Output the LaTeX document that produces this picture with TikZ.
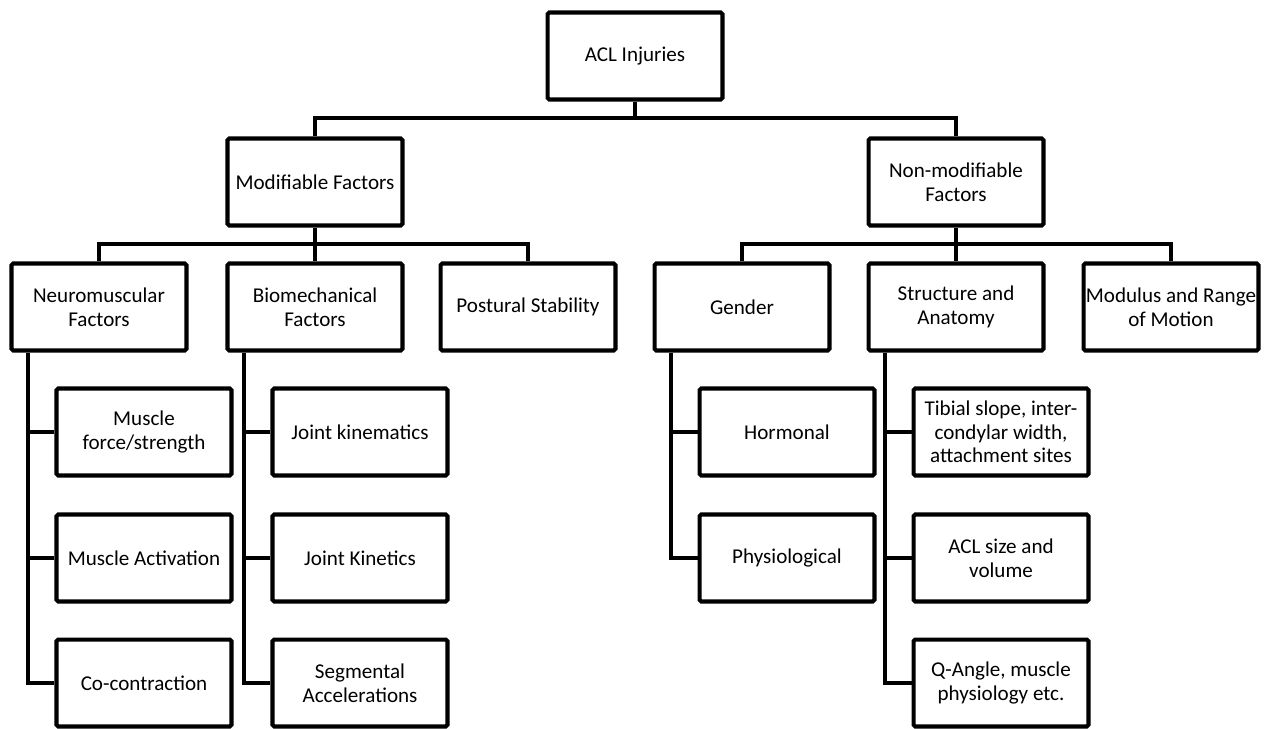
\documentclass[tikz,border=0pt]{standalone}
\usepackage{fontspec}
\setmainfont{Carlito}
\usetikzlibrary{calc}
\begin{document}
\begin{tikzpicture}[x=0.02cm,y=-0.02cm,
  factor/.style={draw,line width=2.3pt,rounded corners=1pt,minimum width=3.5cm,minimum height=1.74cm,
    inner xsep=1pt,align=center,font=\fontsize{12}{13.5}\selectfont},
  link/.style={line width=2.3pt}]
\useasboundingbox (0,0) rectangle (1272,728);
% root and the two main groups
\node[factor] (acl) at (635,56) {ACL Injuries};
\node[factor] (mod) at (315,182) {Modifiable Factors};
\node[factor] (nonmod) at (956,182) {Non-modifiable\\Factors};
% second level, y = 307
\foreach \nm/\x/\txt in {neuro/99/{Neuromuscular\\Factors},bio/315/{Biomechanical\\Factors},post/528/{Postural Stability},
  gender/742/{Gender},struct/956/{Structure and\\Anatomy},modulus/1171/{Modulus and Range\\of Motion}}{
  \node[factor] (\nm) at (\x,307) {\txt};}
% third level: rows at 432, 558, 683
\foreach \nm/\x/\y/\txt in {musforce/144/432/{Muscle\\force/strength},musact/144/558/{Muscle Activation},cocon/144/683/{Co-contraction},
  kinem/360/432/{Joint kinematics},kinet/360/558/{Joint Kinetics},segacc/360/683/{Segmental\\Accelerations},
  hormon/787/432/{Hormonal},physio/787/558/{Physiological},
  tibial/1001/432/{Tibial slope, inter-\\condylar width,\\attachment sites},aclsize/1001/558/{ACL size and\\volume},qangle/1001/683/{Q-Angle, muscle\\physiology etc.}}{
  \node[factor] (\nm) at (\x,\y) {\txt};}
% bus lines
\coordinate (bus1) at (635,118);
\coordinate (bus2) at (315,244);
\coordinate (bus3) at (956,244);
\draw[link] (acl.south) -- (bus1);
\draw[link] (mod.north) |- (bus1) -| (nonmod.north);
\draw[link] (mod.south) -- (bus2) -- (bio.north);
\draw[link] (neuro.north) |- (bus2) -| (post.north);
\draw[link] (nonmod.south) -- (bus3) -- (struct.north);
\draw[link] (gender.north) |- (bus3) -| (modulus.north);
% trunks down the left side of each parent
\foreach \up/\kid in {neuro/musforce,neuro/musact,neuro/cocon,bio/kinem,bio/kinet,bio/segacc,
  gender/hormon,gender/physio,struct/tibial,struct/aclsize,struct/qangle}{
  \draw[link] ($(\up.south)+(-71,0)$) |- (\kid.west);}
\end{tikzpicture}
\end{document}
